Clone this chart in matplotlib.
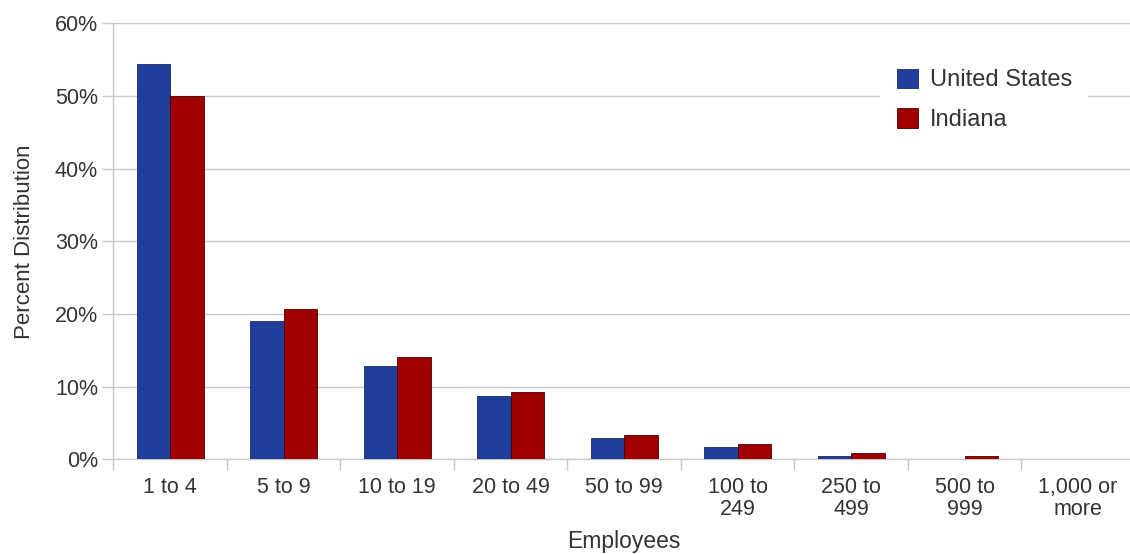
import matplotlib.pyplot as plt
import numpy as np

plt.rcParams['font.family'] = ['Liberation Sans', 'DejaVu Sans']

categories = ['1 to 4', '5 to 9', '10 to 19', '20 to 49', '50 to 99',
              '100 to\n249', '250 to\n499', '500 to\n999', '1,000 or\nmore']
united_states = [54.4, 19.1, 12.8, 8.7, 3.0, 1.7, 0.45, 0.0, 0.0]
indiana = [50.0, 20.7, 14.1, 9.3, 3.4, 2.1, 0.8, 0.5, 0.0]
y_ticks = [0, 10, 20, 30, 40, 50, 60]

blue = '#1f3e9c'
red = '#a00000'
text_color = '#333333'
grid_color = '#c8c8c8'

fig = plt.figure(figsize=(11.3, 5.54), dpi=100)
ax = fig.add_axes([113.3 / 1130, 94.7 / 554, 1021.5 / 1130, 436 / 554])

x = np.arange(len(categories))
w = 0.295
ax.bar(x - w / 2, united_states, w, color=blue, edgecolor='#1a2a5a',
       linewidth=0.6, label='United States', zorder=3)
ax.bar(x + w / 2, indiana, w, color=red, edgecolor='#4a0000',
       linewidth=0.6, label='Indiana', zorder=3)

ax.set_xlim(-0.5, len(categories) - 0.5)
ax.set_ylim(0, 60)

ax.set_yticks(y_ticks)
ax.set_yticklabels([f'{t}%' for t in y_ticks])
ax.yaxis.grid(True, color=grid_color, linewidth=1)
ax.set_axisbelow(True)

# labels in the middle of each category, tick marks on the boundaries
ax.set_xticks(x)
ax.set_xticklabels(categories, linespacing=1.05)
ax.set_xticks(np.arange(len(categories) + 1) - 0.5, minor=True)
ax.tick_params(axis='x', which='major', length=0, pad=13,
               labelsize=15.5, colors=text_color)
ax.tick_params(axis='x', which='minor', length=8, width=1, color=grid_color)
ax.tick_params(axis='y', length=8, width=1, color=grid_color,
               labelsize=15.5, labelcolor=text_color, pad=3)

for side in ['top', 'right']:
    ax.spines[side].set_visible(False)
for side in ['left', 'bottom']:
    ax.spines[side].set_color(grid_color)
    ax.spines[side].set_linewidth(1)

ax.set_ylabel('Percent Distribution', fontsize=16, color=text_color, labelpad=14)
ax.set_xlabel('Employees', fontsize=16.5, color=text_color, labelpad=7)

leg = ax.legend(loc='upper left', bbox_to_anchor=(880 / 1130, 1 - 52 / 554),
                bbox_transform=fig.transFigure, fontsize=17,
                handlelength=0.9, handleheight=0.9, handletextpad=0.5,
                labelspacing=0.7, borderpad=0.7, frameon=True,
                fancybox=False, borderaxespad=0)
leg.get_frame().set_facecolor('white')
leg.get_frame().set_edgecolor('none')
leg.get_frame().set_alpha(1)
for t in leg.get_texts():
    t.set_color(text_color)

fig.savefig('out.png', dpi=100)
